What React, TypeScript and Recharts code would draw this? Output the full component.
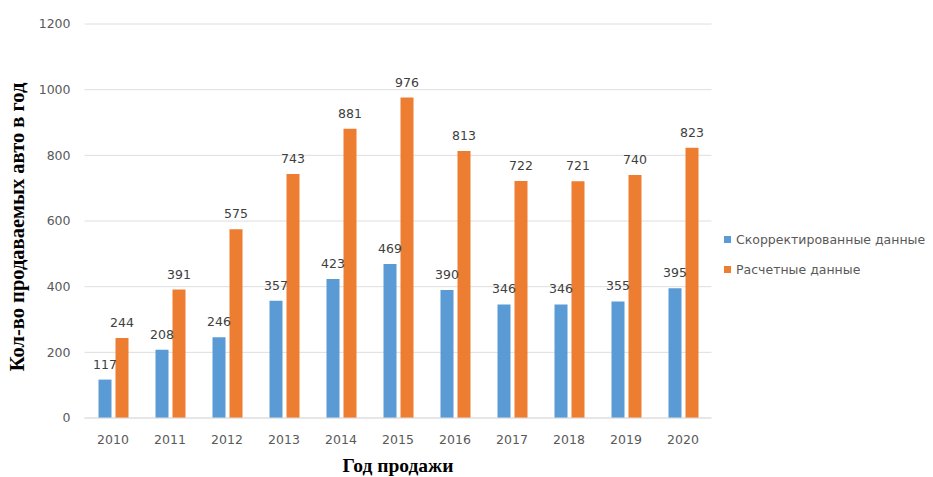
import React from 'react';
import { BarChart, Bar, XAxis, YAxis, CartesianGrid, LabelList } from 'recharts';

const years = ['2010', '2011', '2012', '2013', '2014', '2015', '2016', '2017', '2018', '2019', '2020'];
const corrected = [117, 208, 246, 357, 423, 469, 390, 346, 346, 355, 395];
const calculated = [244, 391, 575, 743, 881, 976, 813, 722, 721, 740, 823];
const yTicks = [0, 200, 400, 600, 800, 1000, 1200];

const seriesInfo = [
  { key: 'corrected', name: 'Скорректированные данные', color: '#5B9BD5' },
  { key: 'calculated', name: 'Расчетные данные', color: '#ED7D31' },
];

const data = years.map((y, i) => ({ year: y, corrected: corrected[i], calculated: calculated[i] }));

const tickFont = { fontFamily: 'DejaVu Sans', fontSize: 12.5, fill: '#595959' };

export default function App() {
  return (
    <div style={{ position: 'relative', width: 925, height: 469, background: '#fff' }}>
      <BarChart
        width={925}
        height={469}
        data={data}
        margin={{ top: 16, right: 221.5, bottom: 29, left: 16 }}
        barSize={13}
        barGap={4}
      >
        <CartesianGrid vertical={false} stroke="#dedede" />
        <XAxis
          dataKey="year"
          height={30}
          tickLine={false}
          axisLine={{ stroke: '#dedede' }}
          tickSize={0}
          tickMargin={17}
          tick={tickFont}
        />
        <YAxis
          width={60.5}
          domain={[0, 1200]}
          ticks={yTicks}
          tickLine={false}
          axisLine={false}
          tickSize={0}
          tickMargin={14}
          tick={tickFont}
        />
        {seriesInfo.map((s) => (
          <Bar key={s.key} dataKey={s.key} name={s.name} fill={s.color} isAnimationActive={false}>
            <LabelList
              dataKey={s.key}
              position="top"
              offset={11}
              style={{ fontFamily: 'DejaVu Sans', fontSize: 12.5, fill: '#404040' }}
            />
          </Bar>
        ))}
      </BarChart>
      <div
        style={{
          position: 'absolute',
          left: 9,
          top: 219,
          width: 0,
          height: 0,
        }}
      >
        <div
          style={{
            position: 'absolute',
            transform: 'translate(-50%, -50%) rotate(-90deg)',
            whiteSpace: 'nowrap',
            fontFamily: 'Liberation Serif',
            fontWeight: 'bold',
            fontSize: 20.5,
            color: '#000',
            lineHeight: '20px',
          }}
        >
          Кол-во продаваемых авто в год
        </div>
      </div>
      <div
        style={{
          position: 'absolute',
          left: 390,
          top: 458,
          width: 0,
          height: 0,
        }}
      >
        <div
          style={{
            position: 'absolute',
            transform: 'translate(-50%, -50%)',
            whiteSpace: 'nowrap',
            fontFamily: 'Liberation Serif',
            fontWeight: 'bold',
            fontSize: 19.5,
            color: '#000',
            lineHeight: '20px',
          }}
        >
          Год продажи
        </div>
      </div>
      <div style={{ position: 'absolute', left: 716, top: 216 }}>
        {seriesInfo.map((s) => (
          <div
            key={s.key}
            style={{
              display: 'flex',
              alignItems: 'center',
              height: 30,
              whiteSpace: 'nowrap',
              fontFamily: 'DejaVu Sans',
              fontSize: 12.5,
              color: '#595959',
            }}
          >
            <span style={{ display: 'inline-block', width: 7, height: 7, background: s.color, marginRight: 5 }} />
            {s.name}
          </div>
        ))}
      </div>
    </div>
  );
}
